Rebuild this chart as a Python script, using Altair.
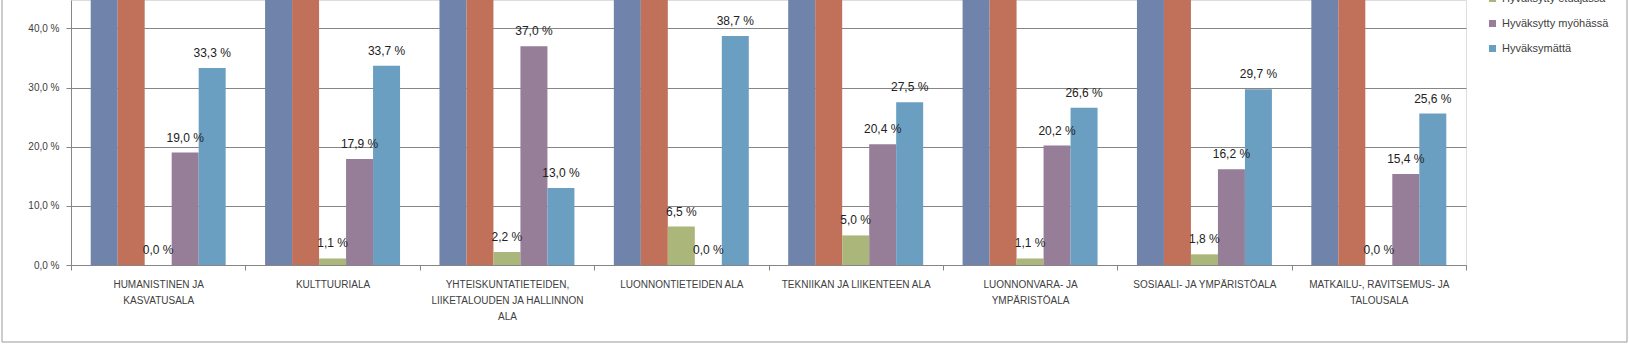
import altair as alt
import pandas as pd

categories = [
    "HUMANISTINEN  JA\nKASVATUSALA",
    "KULTTUURIALA",
    "YHTEISKUNTATIETEIDEN,\nLIIKETALOUDEN JA HALLINNON\nALA",
    "LUONNONTIETEIDEN  ALA",
    "TEKNIIKAN JA LIIKENTEEN  ALA",
    "LUONNONVARA- JA\nYMPÄRISTÖALA",
    "SOSIAALI- JA YMPÄRISTÖALA",
    "MATKAILU-, RAVITSEMUS-  JA\nTALOUSALA",
]

# The first two series run past the top of the visible (cropped) plot area
series = ["Sarja 1", "Sarja 2", "Hyväksytty etuajassa", "Hyväksytty myöhässä", "Hyväksymättä"]
visible_series = ["Hyväksytty etuajassa", "Hyväksytty myöhässä", "Hyväksymättä"]
colors = ["#7083AB", "#C1705A", "#AAB67A", "#967D98", "#6A9FC1"]

sarja1 = [100.0, 100.0, 100.0, 100.0, 100.0, 100.0, 100.0, 100.0]
sarja2 = [100.0, 100.0, 100.0, 100.0, 100.0, 100.0, 100.0, 100.0]
etuajassa = [0.0, 1.1, 2.2, 6.5, 5.0, 1.1, 1.8, 0.0]
myohassa = [19.0, 17.9, 37.0, 0.0, 20.4, 20.2, 16.2, 15.4]
hyvaksymatta = [33.3, 33.7, 13.0, 38.7, 27.5, 26.6, 29.7, 25.6]

values_by_series = [sarja1, sarja2, etuajassa, myohassa, hyvaksymatta]
rows = []
for s, vals in zip(series, values_by_series):
    for c, v in zip(categories, vals):
        rows.append({"cat": c, "series": s, "value": v})
df = pd.DataFrame(rows)

FONT = "Liberation Sans Narrow, Liberation Sans"
GRAY = "#868686"
TXT = "#404040"

x_enc = alt.X(
    "cat:N", sort=categories,
    scale=alt.Scale(paddingInner=0, paddingOuter=0),
    axis=alt.Axis(
        title=None, labelAngle=0, tickBand="extent", tickSize=5, grid=False,
        domainColor=GRAY, tickColor=GRAY, labelColor=TXT, labelFont=FONT,
        labelFontSize=10, labelLineHeight=16, labelPadding=9, labelBaseline="top",
        labelExpr="split(datum.label, '\\n')",
    ),
)
xoff = alt.XOffset("series:N", sort=series, scale=alt.Scale(paddingInner=0, paddingOuter=0.73))
y_enc = alt.Y(
    "value:Q",
    scale=alt.Scale(domain=[0, 44.8], nice=False, zero=True),
    axis=alt.Axis(
        title=None, values=[0, 10, 20, 30, 40], tickSize=5, grid=True,
        gridColor=GRAY, domainColor=GRAY, tickColor=GRAY, labelColor=TXT,
        labelFont=FONT, labelFontSize=10, labelPadding=7,
        labelExpr="replace(format(datum.value, '.1f'), '.', ',') + ' %'",
    ),
)

bars = alt.Chart(df).mark_bar(clip=True).encode(
    x=x_enc,
    xOffset=xoff,
    y=y_enc,
    color=alt.Color(
        "series:N", sort=series,
        scale=alt.Scale(domain=series, range=colors),
        legend=alt.Legend(
            values=visible_series, title=None, orient="none", legendX=1416, legendY=-7,
            symbolType="square", symbolSize=49, symbolStrokeWidth=0,
            labelFont=FONT, labelFontSize=11, labelColor=TXT, rowPadding=13, labelOffset=4,
        ),
    ),
)

labels = alt.Chart(df).transform_filter(
    alt.FieldOneOfPredicate(field="series", oneOf=visible_series)
).transform_calculate(
    lab="replace(format(datum.value, '.1f'), '.', ',') + ' %'"
).mark_text(baseline="middle", dy=-15, font=FONT, fontSize=12, color="#222222").encode(
    x=alt.X("cat:N", sort=categories),
    xOffset=alt.XOffset("series:N", sort=series),
    y=alt.Y("value:Q"),
    text="lab:N",
)

frame_df = pd.DataFrame({"a": [0]})
frame_left = alt.Chart(frame_df).mark_rule(color="#9a9a9a", strokeWidth=1).encode(
    x=alt.value(-69), y=alt.value(-5), y2=alt.value(342))
frame_right = alt.Chart(frame_df).mark_rule(color="#9a9a9a", strokeWidth=1).encode(
    x=alt.value(1556), y=alt.value(-5), y2=alt.value(342))
frame_bottom = alt.Chart(frame_df).mark_rule(color="#9a9a9a", strokeWidth=1).encode(
    x=alt.value(-69), x2=alt.value(1556), y=alt.value(342))

chart = alt.layer(bars, labels, frame_left, frame_right, frame_bottom).properties(
    width=1395, height=265,
    padding={"left": 71, "top": 0, "right": 163, "bottom": 79},
    autosize="none",
).configure_view(stroke=None).configure(background="white")

chart.save("out.html", embed_options={"renderer": "svg", "actions": False})
